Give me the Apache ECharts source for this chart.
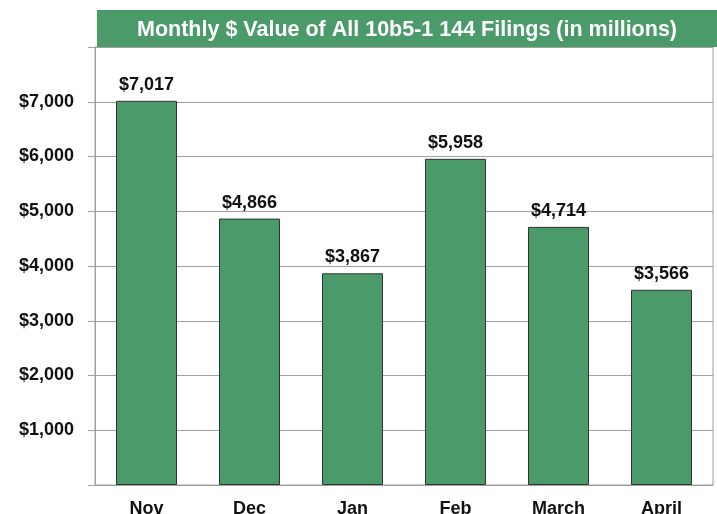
<!DOCTYPE html>
<html>
<head>
<meta charset="utf-8">
<script src="https://cdn.jsdelivr.net/npm/echarts@6/dist/echarts.min.js"></script>
<style>
html, body { margin: 0; padding: 0; background: #fff; }
#chart { width: 717px; height: 514px; }
</style>
</head>
<body>
<div id="chart"></div>
<script>
// monthly values, $ millions
const months = ["Nov", "Dec", "Jan", "Feb", "March", "April"];
const values = [7017, 4866, 3867, 5958, 4714, 3566];
const titleText = "Monthly $ Value of All 10b5-1 144 Filings (in millions)";

const green = "#4b9a6a";
const fontFam = "'Liberation Sans', Arial, sans-serif";

function money(v) {
    return "$" + v.toLocaleString("en-US");
}

const chart = echarts.init(document.getElementById("chart"));
chart.setOption({
    animation: false,
    grid: {
        left: 95, right: 4, top: 47, bottom: 29,
        outerBoundsMode: "none", containLabel: false,
        show: true, borderColor: "#a0a0a0", borderWidth: 1
    },
    graphic: [
        {
            type: "rect", left: 97, top: 10, z: 10,
            shape: { width: 620, height: 37 },
            style: { fill: green }
        },
        {
            type: "text", x: 407, y: 30, z: 11,
            style: {
                text: titleText, fill: "#fff", align: "center", verticalAlign: "middle",
                font: "bold 21.5px " + fontFam
            }
        }
    ],
    xAxis: {
        type: "category",
        data: months,
        axisLine: { lineStyle: { color: "#a0a0a0" } },
        axisTick: { length: 7, lineStyle: { color: "#a0a0a0" } },
        axisLabel: {
            color: "#111", fontWeight: "bold", fontSize: 18, fontFamily: fontFam, margin: 15
        }
    },
    yAxis: {
        type: "value",
        min: 0, max: 8000, interval: 1000,
        axisLine: { show: true, lineStyle: { color: "#a0a0a0" } },
        axisTick: { show: true, length: 7, lineStyle: { color: "#a0a0a0" } },
        splitLine: { lineStyle: { color: "#a0a0a0" } },
        axisLabel: {
            color: "#111", fontWeight: "bold", fontSize: 18, fontFamily: fontFam, margin: 21,
            formatter: v => (v === 0 || v === 8000) ? "" : money(v)
        }
    },
    series: [{
        type: "bar",
        data: values,
        barWidth: 61,
        itemStyle: { color: green, borderColor: "#333", borderWidth: 1 },
        label: {
            show: true, position: "top", distance: 7,
            color: "#111", fontWeight: "bold", fontSize: 18, fontFamily: fontFam,
            formatter: p => money(p.value)
        }
    }]
});
</script>
</body>
</html>
